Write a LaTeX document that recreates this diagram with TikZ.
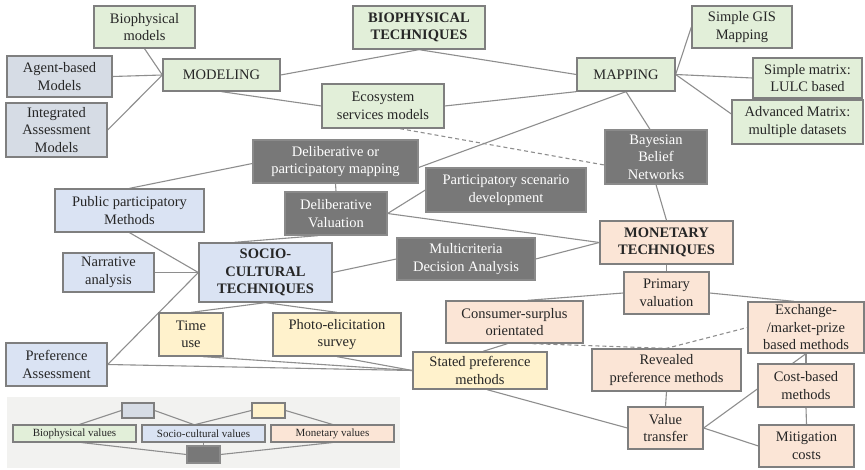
\documentclass[tikz,border=0pt]{standalone}
\usepackage{fontspec}
\setmainfont{Liberation Serif}
\usetikzlibrary{calc}
\pgfdeclarelayer{panel}
\pgfdeclarelayer{links}
\pgfsetlayers{panel,links,main}

\definecolor{bioG}{HTML}{E2EFD9}
\definecolor{lavB}{HTML}{D6DCE5}
\definecolor{socB}{HTML}{DAE3F3}
\definecolor{monP}{HTML}{FBE5D6}
\definecolor{yelC}{HTML}{FFF2CC}
\definecolor{darkF}{HTML}{787878}
\definecolor{darkL}{HTML}{8A8A8A}
\definecolor{boxL}{HTML}{7F7F7F}
\definecolor{linkC}{HTML}{8E8E8E}
\definecolor{panelC}{HTML}{F2F2F0}

\tikzset{
  sz/.style 2 args={minimum width=#1pt, minimum height=#2pt},
  box/.style={draw=boxL, line width=1.3pt, inner sep=0pt, align=center,
              font=\fontsize{14.5}{17.5}\selectfont, text=black!85},
  bio/.style={box, fill=bioG},
  lav/.style={box, fill=lavB},
  soc/.style={box, fill=socB},
  mon/.style={box, fill=monP},
  yel/.style={box, fill=yelC},
  dark/.style={box, fill=darkF, draw=darkL, text=white},
  keybox/.style={line width=1.1pt, font=\fontsize{11}{13}\selectfont},
  link/.style={draw=linkC, line width=1.1pt},
  dlink/.style={link, dash pattern=on 4pt off 3pt},
}

\begin{document}
\begin{tikzpicture}[x=1pt, y=-1pt]
\useasboundingbox (0,0) rectangle (865,470);

% ---- biophysical branch
\node[bio, sz={101}{42}] (bioM) at (144.5,27) {Biophysical\\models};
\node[lav, sz={105}{41}] (agent) at (59.5,76.5) {Agent-based\\Models};
\node[lav, sz={101}{54}] (iam) at (56.5,130) {Integrated\\Assessment\\Models};
\node[bio, sz={117}{32}] (modeling) at (221.5,75) {MODELING};
\node[bio, sz={132}{43}, font=\fontsize{14.5}{17.5}\selectfont\bfseries] (bioT) at (419,27.5) {BIOPHYSICAL\\TECHNIQUES};
\node[bio, sz={122}{44}] (eco) at (383,106) {Ecosystem\\services models};
\node[bio, sz={98}{33}] (mapping) at (626,74.5) {MAPPING};
\node[bio, sz={100}{42}] (gis) at (742,27) {Simple GIS\\Mapping};
\node[bio, sz={109}{40}] (smatrix) at (807.5,78) {Simple matrix:\\LULC based};
\node[bio, sz={131}{44}] (advm) at (797.5,122) {Advanced Matrix:\\multiple datasets};

% ---- integrated (dark) methods
\node[dark, sz={102}{54}] (bbn) at (656,157) {Bayesian\\Belief\\Networks};
\node[dark, sz={165}{43}] (dpm) at (335.5,161.5) {Deliberative or\\participatory mapping};
\node[dark, sz={102}{43}] (dval) at (336,213.5) {Deliberative\\Valuation};
\node[dark, sz={160}{44}] (psd) at (506,190) {Participatory scenario\\development};
\node[dark, sz={138}{42}] (mcda) at (466,259) {Multicriteria\\Decision Analysis};

% ---- socio-cultural branch
\node[soc, sz={149}{43}] (ppm) at (129.5,210.5) {Public participatory\\Methods};
\node[soc, sz={91}{39}] (narr) at (108.5,272.5) {Narrative\\analysis};
\node[soc, sz={133}{59}, font=\fontsize{14.5}{17.5}\selectfont\bfseries] (socio) at (265.5,272.5) {SOCIO-\\CULTURAL\\TECHNIQUES};
\node[soc, sz={101}{43}] (pref) at (56.5,364.5) {Preference\\Assessment};
\node[yel, sz={64}{43}] (time) at (191,334.5) {Time\\use};
\node[yel, sz={128}{43}] (photo) at (337,334.5) {Photo-elicitation\\survey};
\node[yel, sz={134}{37}] (stated) at (480,370.5) {Stated preference\\methods};

% ---- monetary branch
\node[mon, sz={133}{43}, font=\fontsize{14.5}{17.5}\selectfont\bfseries] (monT) at (666.5,242.5) {MONETARY\\TECHNIQUES};
\node[mon, sz={85}{42}] (prim) at (666.5,293) {Primary\\valuation};
\node[mon, sz={137}{42}] (cons) at (514.5,322) {Consumer-surplus\\orientated};
\node[mon, sz={116}{51}] (exch) at (806,327.5) {Exchange-\\/market-prize\\based methods};
\node[mon, sz={149}{42}] (reveal) at (666.5,370) {Revealed\\preference methods};
\node[mon, sz={96}{43}] (cost) at (806,385.5) {Cost-based\\methods};
\node[mon, sz={75}{42}] (vt) at (665.5,428) {Value\\transfer};
\node[mon, sz={95}{42}] (mit) at (806.5,446) {Mitigation\\costs};

% ---- key
\node[lav, keybox, sz={32}{15}] (kLav) at (138,410.5) {};
\node[yel, keybox, sz={33}{15}] (kYel) at (268.5,410.5) {};
\node[bio, keybox, sz={123}{17}] (kBio) at (74.5,433.5) {Biophysical values};
\node[soc, keybox, sz={123}{17}] (kSoc) at (203.5,433.5) {Socio-cultural values};
\node[mon, keybox, sz={123}{17}] (kMon) at (332.5,433.5) {Monetary values};
\node[dark, keybox, sz={33}{17}] (kDark) at (203.5,454.5) {};

\begin{pgfonlayer}{panel}
  \fill[white] (0,0) rectangle (865,470);
  \fill[panelC] (7,397) rectangle (400,468);
\end{pgfonlayer}

\begin{pgfonlayer}{links}
  % biophysical
  \draw[link] (bioM.south) -- (modeling.west);
  \draw[link] (agent.east) -- (modeling.west);
  \draw[link] (iam.east) -- (modeling.west);
  \draw[link] (modeling.east) -- (bioT.south) -- (mapping.west);
  \draw[link] (modeling.south) -- (eco.west);
  \draw[link] (eco.east) -- (mapping.south west);
  \draw[link] (mapping.south) -- ($(dpm.east)+(0,6)$);
  \draw[link] (mapping.south) -- ($(bbn.north)+(-6,0)$);
  \draw[link] (mapping.east) -- (gis.west);
  \draw[link] (mapping.east) -- (smatrix.west);
  \draw[link] (mapping.east) -- ($(advm.west)+(0,-8)$);
  \draw[dlink] ($(eco.south)+(17,0)$) -- ($(bbn.west)+(0,8)$);
  \draw[link] (bbn.south) -- (monT.north);
  % socio-cultural
  \draw[link] (ppm.north) -- ($(dpm.west)+(0,2)$);
  \draw[link] (ppm.south) -- (socio.west);
  \draw[link] (narr.east) -- (socio.west);
  \draw[link] (pref.east) -- (socio.west);
  \draw[link] ($(socio.north)+(-31,0)$) -- ($(dval.south)+(-18,0)$);
  \draw[link] (socio.east) -- (mcda.west);
  \draw[link] (mcda.east) -- (monT.west);
  \draw[link] (dval.east) -- (monT.west);
  \draw[link] (dval.east) -- (psd.west);
  \draw[link] (dpm.south) -- (dval.north);
  \draw[link] (socio.south) -- (time.north);
  \draw[link] (socio.south) -- (photo.north);
  \draw[link] ($(time.south)+(12,0)$) -- (stated.west);
  \draw[link] (photo.south) -- (stated.west);
  \draw[link] (pref.east) -- (stated.west);
  % monetary
  \draw[link] (monT.south) -- (prim.north);
  \draw[link] (prim.west) -- ($(cons.north)+(13,0)$);
  \draw[link] (prim.east) -- ($(exch.north)+(-12,0)$);
  \draw[link] ($(cons.south)+(-7,0)$) -- ($(stated.north)+(3,0)$);
  \draw[dlink] ($(cons.south)+(18,0)$) -- (reveal.north) -- (exch.west);
  \draw[link] ($(stated.south)+(7,0)$) -- (vt.west);
  \draw[link] (reveal.south) -- (vt.north);
  \draw[link] (vt.east) -- (exch.south);
  \draw[link] (vt.east) -- (mit.west);
  \draw[link] (exch.south) -- (cost.north);
  \draw[link] (cost.south) -- (mit.north);
  % key
  \draw[link] (kLav.west) -- ($(kBio.north)+(5,0)$);
  \draw[link] (kLav.east) -- ($(kSoc.north)+(-10,0)$);
  \draw[link] (kYel.west) -- ($(kSoc.north)+(-8,0)$);
  \draw[link] (kYel.east) -- (kMon.north);
  \draw[link] ($(kBio.south)+(7,0)$) -- (kDark.west);
  \draw[link] (kSoc.south) -- (kDark.north);
  \draw[link] (kMon.south) -- (kDark.east);
\end{pgfonlayer}
\end{tikzpicture}
\end{document}
